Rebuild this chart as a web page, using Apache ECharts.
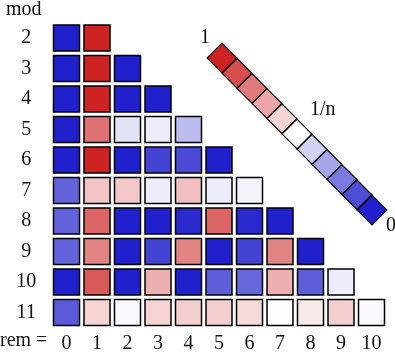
<!DOCTYPE html>
<html>
<head>
<meta charset="utf-8">
<script src="https://cdn.jsdelivr.net/npm/echarts@6/dist/echarts.min.js"></script>
<style>
  html, body { margin: 0; padding: 0; background: #fff; }
  #chart { width: 395px; height: 355px; }
</style>
</head>
<body>
<div id="chart"></div>
<script>
// rows = modulus, columns = remainder
const modLabels = ["2", "3", "4", "5", "6", "7", "8", "9", "10", "11"];
const remLabels = ["0", "1", "2", "3", "4", "5", "6", "7", "8", "9", "10"];

// colour level of each cell: 0 = blue, 0.5 = 1/n (white), 1 = red
const levels = [
  [0, 1],
  [0, 1, 0],
  [0, 1, 0, 0],
  [0, 0.82, 0.44, 0.46, 0.35],
  [0, 1, 0, 0.08, 0.095, 0],
  [0.15, 0.63, 0.625, 0.46, 0.645, 0.46, 0.475],
  [0.15, 0.85, 0, 0, 0.02, 0.85, 0.02, 0],
  [0.15, 0.78, 0, 0.08, 0.78, 0, 0.08, 0.78, 0],
  [0, 0.88, 0, 0.68, 0, 0.14, 0.16, 0.68, 0.14, 0.46],
  [0.13, 0.6, 0.485, 0.6, 0.61, 0.61, 0.585, 0.495, 0.55, 0.61, 0.49]
];

// diagonal colour key: position along the bar and its level
const keyPos = [0, 1, 2, 3, 4, 5, 6, 7, 8, 9, 10];
const keyVals = [1, 0.9, 0.8, 0.7, 0.6, 0.5, 0.4, 0.3, 0.2, 0.1, 0];

const FONT = "Liberation Serif";
const FS = 20;

// flatten the triangle into [col, row, level]
const cells = [];
levels.forEach((row, r) => {
  row.forEach((v, c) => cells.push([c, r, v]));
});

const chart = echarts.init(document.getElementById("chart"), null, { renderer: "canvas" });

chart.setOption({
  animation: false,
  grid: [
    { left: 51.25, top: 22.75, width: 335.5, height: 305 },
    { left: 222, top: 58, width: 150, height: 152 }
  ],
  xAxis: [
    {
      type: "category",
      gridIndex: 0,
      data: remLabels,
      axisLine: { show: false },
      axisTick: { show: false },
      axisLabel: { margin: 6, color: "#111", fontFamily: FONT, fontSize: FS }
    },
    { type: "value", gridIndex: 1, min: 0, max: 10, show: false }
  ],
  yAxis: [
    {
      type: "category",
      gridIndex: 0,
      data: modLabels,
      inverse: true,
      axisLine: { show: false },
      axisTick: { show: false },
      splitLine: { show: false },
      axisLabel: { margin: 25, align: "center", color: "#111", fontFamily: FONT, fontSize: FS }
    },
    { type: "value", gridIndex: 1, min: 0, max: 10, inverse: true, show: false }
  ],
  visualMap: {
    show: false,
    type: "continuous",
    min: 0,
    max: 1,
    dimension: 2,
    seriesIndex: [0, 1],
    inRange: { color: ["#2020cc", "#ffffff", "#cd2323"] }
  },
  graphic: [
    { type: "text", left: 6, top: 0, style: { text: "mod", font: FS + "px " + FONT, fill: "#111" } },
    { type: "text", left: 0, top: 331, style: { text: "rem =", font: FS + "px " + FONT, fill: "#111" } },
    { type: "text", left: 200, top: 28, style: { text: "1", font: FS + "px " + FONT, fill: "#111" } },
    { type: "text", left: 310, top: 100, style: { text: "1/n", font: FS + "px " + FONT, fill: "#111" } },
    { type: "text", left: 386, top: 216, style: { text: "0", font: FS + "px " + FONT, fill: "#111" } }
  ],
  series: [
    {
      type: "scatter",
      xAxisIndex: 0,
      yAxisIndex: 0,
      symbol: "rect",
      symbolSize: 26,
      data: cells,
      itemStyle: { borderColor: "#000", borderWidth: 1.5, opacity: 1 }
    },
    {
      type: "scatter",
      xAxisIndex: 1,
      yAxisIndex: 1,
      symbol: "rect",
      symbolSize: 21,
      symbolRotate: 45,
      data: keyPos.map((p, i) => [p, p, keyVals[i]]),
      itemStyle: { borderColor: "#000", borderWidth: 1.2, opacity: 1 }
    }
  ]
});
</script>
</body>
</html>
